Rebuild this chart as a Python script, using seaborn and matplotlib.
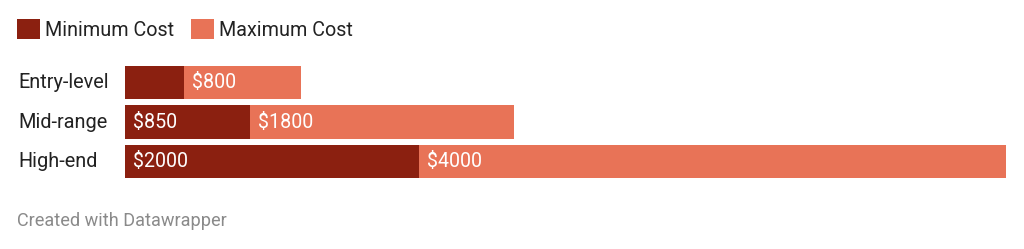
import matplotlib
matplotlib.use("Agg")
import matplotlib.pyplot as plt
import seaborn as sns
import pandas as pd
from matplotlib.patches import Patch
from matplotlib.transforms import offset_copy, blended_transform_factory

categories = ["Entry-level", "Mid-range", "High-end"]
min_cost = [400, 850, 2000]
max_cost = [800, 1800, 4000]
min_labels = ["", "$850", "$2000"]
max_labels = ["$800", "$1800", "$4000"]

DARK = "#8B2010"
LIGHT = "#E87357"

sns.set_theme(style="white")
plt.rcParams["font.family"] = ["Roboto", "DejaVu Sans"]

df = pd.DataFrame({"category": categories, "min": min_cost, "max": max_cost})
df["total"] = df["min"] + df["max"]

fig = plt.figure(figsize=(10.24, 2.49), dpi=100)
ax = fig.add_axes([125.3 / 1024, 1 - 181.7 / 249, 880.4 / 1024, 119.4 / 249])

sns.barplot(data=df, x="total", y="category", orient="h", color=LIGHT,
            width=0.83, saturation=1, ax=ax, linewidth=0)
sns.barplot(data=df, x="min", y="category", orient="h", color=DARK,
            width=0.83, saturation=1, ax=ax, linewidth=0)

ax.set_xlim(0, df["total"].max())
ax.set_ylim(2.5, -0.5)
ax.set_xlabel("")
ax.set_ylabel("")
ax.set_xticks([])
ax.set_yticks([])
for s in ax.spines.values():
    s.set_visible(False)

lab_tr = offset_copy(ax.transData, fig=fig, x=8, y=0, units="dots")
for i, cat in enumerate(categories):
    if min_labels[i]:
        ax.text(0, i, min_labels[i], transform=lab_tr, color="white",
                fontsize=14.1, va="center", ha="left")
    ax.text(min_cost[i], i, max_labels[i], transform=lab_tr, color="white",
            fontsize=14.1, va="center", ha="left")

btr = blended_transform_factory(fig.transFigure, ax.transData)
for i, cat in enumerate(categories):
    ax.text(18 / 1024, i, cat, transform=btr, color="#222222", fontsize=14.3,
            va="center", ha="left", clip_on=False)

handles = [Patch(facecolor=DARK, edgecolor="none", label="Minimum Cost"),
           Patch(facecolor=LIGHT, edgecolor="none", label="Maximum Cost")]
fig.legend(handles=handles, loc="upper left",
           bbox_to_anchor=(16.7 / 1024, 1 - 19.3 / 249), ncol=2, frameon=False,
           fontsize=14.2, handlelength=1.17, handleheight=1.17,
           handletextpad=0.26, columnspacing=0.85, borderpad=0, borderaxespad=0,
           labelcolor="#222222")

fig.text(17 / 1024, 1 - 221 / 249, "Created with Datawrapper", color="#8a8a8a",
         fontsize=13.1, va="center", ha="left")

fig.savefig("out.png", dpi=100, facecolor="white")
